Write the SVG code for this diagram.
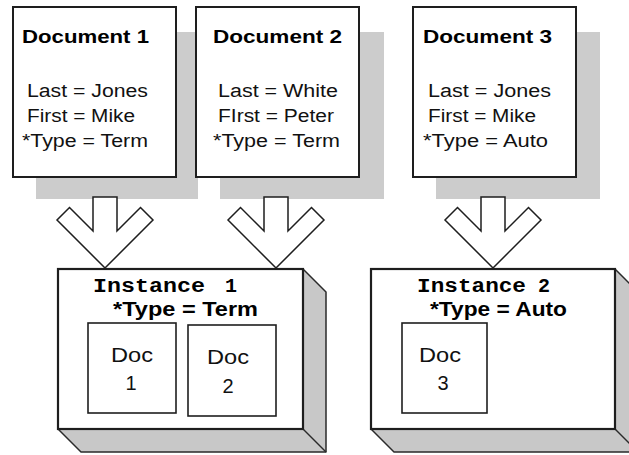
<svg xmlns="http://www.w3.org/2000/svg" width="629" height="455" viewBox="0 0 629 455">
  <style>
    .shadow { fill: #cccccc; stroke: none; }
    .doc { fill: #ffffff; stroke: #1e1e1e; stroke-width: 2; }
    .front { fill: #ffffff; stroke: #1e1e1e; stroke-width: 2.2; }
    .depth { fill: #c8c8c8; stroke: #2a2a2a; stroke-width: 1.5; stroke-linejoin: round; }
    .small { fill: #ffffff; stroke: #1e1e1e; stroke-width: 1.6; }
    .arrow { fill: #ffffff; stroke: #1e1e1e; stroke-width: 1.5; stroke-linejoin: miter; }
    .title { font-family: "Liberation Sans", Arial, sans-serif; font-weight: bold; font-size: 19px; fill: #000; }
    .field { font-family: "Liberation Sans", Arial, sans-serif; font-size: 18px; fill: #111; }
    .inst { font-family: "Liberation Mono", "Courier New", monospace; font-weight: bold; font-size: 20px; fill: #000; }
    .itype { font-family: "Liberation Sans", Arial, sans-serif; font-weight: bold; font-size: 19.5px; fill: #000; }
    .dlabel { font-family: "Liberation Sans", Arial, sans-serif; font-size: 20px; fill: #111; text-anchor: middle; }
  </style>

  <!-- drop shadows behind the document cards -->
  <g id="shadows">
    <rect class="shadow" x="36" y="32" width="162" height="167"/>
    <rect class="shadow" x="220" y="32" width="164" height="167"/>
    <rect class="shadow" x="436" y="32" width="164" height="167"/>
  </g>

  <g id="document1">
    <rect class="doc" x="13" y="7" width="163" height="170"/>
    <text class="title" x="22" y="43" textLength="127" lengthAdjust="spacingAndGlyphs">Document 1</text>
    <text class="field" x="27" y="97" textLength="121" lengthAdjust="spacingAndGlyphs">Last = Jones</text>
    <text class="field" x="27" y="122" textLength="108" lengthAdjust="spacingAndGlyphs">First = Mike</text>
    <text class="field" x="22" y="147" textLength="126" lengthAdjust="spacingAndGlyphs">*Type = Term</text>
  </g>

  <g id="document2">
    <rect class="doc" x="196" y="7" width="163" height="170"/>
    <text class="title" x="213" y="43" textLength="129" lengthAdjust="spacingAndGlyphs">Document 2</text>
    <text class="field" x="218" y="97" textLength="120" lengthAdjust="spacingAndGlyphs">Last = White</text>
    <text class="field" x="218" y="122" textLength="116" lengthAdjust="spacingAndGlyphs">FIrst = Peter</text>
    <text class="field" x="213" y="147" textLength="127" lengthAdjust="spacingAndGlyphs">*Type = Term</text>
  </g>

  <g id="document3">
    <rect class="doc" x="413" y="7" width="163" height="170"/>
    <text class="title" x="423" y="43" textLength="129" lengthAdjust="spacingAndGlyphs">Document 3</text>
    <text class="field" x="428" y="97" textLength="123" lengthAdjust="spacingAndGlyphs">Last = Jones</text>
    <text class="field" x="428" y="122" textLength="108" lengthAdjust="spacingAndGlyphs">First = Mike</text>
    <text class="field" x="423" y="147" textLength="125" lengthAdjust="spacingAndGlyphs">*Type = Auto</text>
  </g>

  <g id="instance1">
    <polygon class="depth" points="303,269 326,292 326,452 81,452 58,429 303,429"/>
    <line class="depth" x1="303" y1="429" x2="326" y2="452"/>
    <rect class="front" x="58" y="269" width="245" height="160"/>
    <text class="inst"><tspan x="93" y="292" textLength="112" lengthAdjust="spacingAndGlyphs">Instance</tspan> <tspan x="225" y="292">1</tspan></text>
    <text class="itype" x="113" y="315.5" textLength="145" lengthAdjust="spacingAndGlyphs">*Type = Term</text>
    <g id="instance1-doc1">
      <rect class="small" x="88" y="323" width="88" height="90"/>
      <text class="dlabel" x="132" y="362" textLength="42" lengthAdjust="spacingAndGlyphs">Doc</text>
      <text class="dlabel" x="131" y="390">1</text>
    </g>
    <g id="instance1-doc2">
      <rect class="small" x="188" y="325" width="88" height="91"/>
      <text class="dlabel" x="228" y="364" textLength="42" lengthAdjust="spacingAndGlyphs">Doc</text>
      <text class="dlabel" x="228" y="393">2</text>
    </g>
  </g>

  <g id="instance2">
    <polygon class="depth" points="615,269 638,292 638,452 394,452 371,429 615,429"/>
    <line class="depth" x1="615" y1="429" x2="638" y2="452"/>
    <rect class="front" x="371" y="269" width="244" height="160"/>
    <text class="inst"><tspan x="417" y="292" textLength="109" lengthAdjust="spacingAndGlyphs">Instance</tspan> <tspan x="538" y="292">2</tspan></text>
    <text class="itype" x="430" y="315.5" textLength="137" lengthAdjust="spacingAndGlyphs">*Type = Auto</text>
    <g id="instance2-doc3">
      <rect class="small" x="402" y="323" width="85" height="90"/>
      <text class="dlabel" x="440" y="362" textLength="42" lengthAdjust="spacingAndGlyphs">Doc</text>
      <text class="dlabel" x="443" y="390">3</text>
    </g>
  </g>

  <!-- hollow block arrows from each document into its instance -->
  <g id="connectors">
    <path class="arrow" d="M93,197 H117 V231 L140.5,207.5 L153,220 L105,268 L57,220 L69.5,207.5 L93,231 Z"/>
    <path class="arrow" d="M264,197 H288 V231 L311.5,207.5 L324,220 L276,268 L228,220 L240.5,207.5 L264,231 Z"/>
    <path class="arrow" d="M481,197 H505 V231 L528.5,207.5 L541,220 L493,268 L445,220 L457.5,207.5 L481,231 Z"/>
  </g>
</svg>
